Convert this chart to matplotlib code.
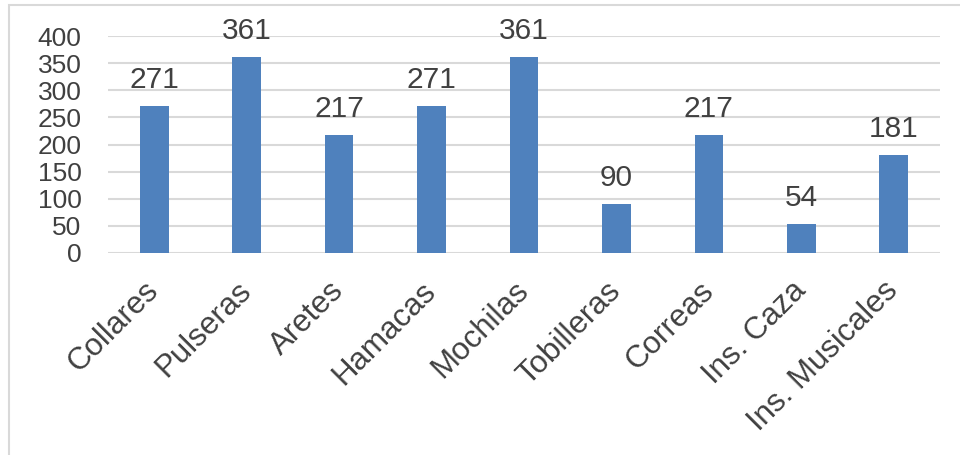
"""
Artesanias por categoria - bar chart.
"""

import matplotlib
matplotlib.use("Agg")
import matplotlib.pyplot as plt
from matplotlib.patches import Rectangle

# =====================================================
# DATA
# =====================================================

categories = [
    "Collares", "Pulseras", "Aretes", "Hamacas", "Mochilas",
    "Tobilleras", "Correas", "Ins. Caza", "Ins. Musicales"
]

values = [271, 361, 217, 271, 361, 90, 217, 54, 181]

y_ticks = [0, 50, 100, 150, 200, 250, 300, 350, 400]

# =====================================================
# STYLE
# =====================================================

plt.rcParams["font.family"] = ["Liberation Sans", "DejaVu Sans"]

bar_color = "#4F81BD"
text_color = "#404040"
grid_color = "#D9D9D9"

# =====================================================
# PLOT
# =====================================================

fig = plt.figure(figsize=(9.6, 4.55), dpi=100)

ax = fig.add_axes([108 / 960, 1 - 253 / 455, 832 / 960, 217 / 455])

x = list(range(len(categories)))

bars = ax.bar(x, values, width=0.31, color=bar_color, zorder=3)

for xi, v in zip(x, values):
    ax.annotate(
        str(v),
        xy=(xi, v),
        xytext=(0, 13),
        textcoords="offset points",
        ha="center",
        va="baseline",
        fontsize=21.5,
        color=text_color
    )

ax.set_xlim(-0.5, len(categories) - 0.5)
ax.set_ylim(0, 400)
ax.set_yticks(y_ticks)
ax.set_yticklabels([str(t) for t in y_ticks], fontsize=19, color=text_color)

ax.set_xticks(x)
ax.set_xticklabels(
    categories,
    rotation=45,
    ha="right",
    va="center",
    rotation_mode="anchor",
    fontsize=22.5,
    color=text_color
)

ax.tick_params(axis="both", length=0)
ax.tick_params(axis="x", pad=24)
ax.tick_params(axis="y", pad=19)

ax.yaxis.grid(True, color=grid_color, linewidth=1.5, zorder=0)
ax.set_axisbelow(True)

for side in ["top", "right", "left", "bottom"]:
    ax.spines[side].set_visible(False)

# chart border
fig.patches.append(
    Rectangle(
        (9 / 960, -0.1),
        1.2,
        1.1 - 5 / 455,
        transform=fig.transFigure,
        fill=False,
        edgecolor="#D9D9D9",
        linewidth=1.5
    )
)

fig.savefig("out.png", dpi=100)
